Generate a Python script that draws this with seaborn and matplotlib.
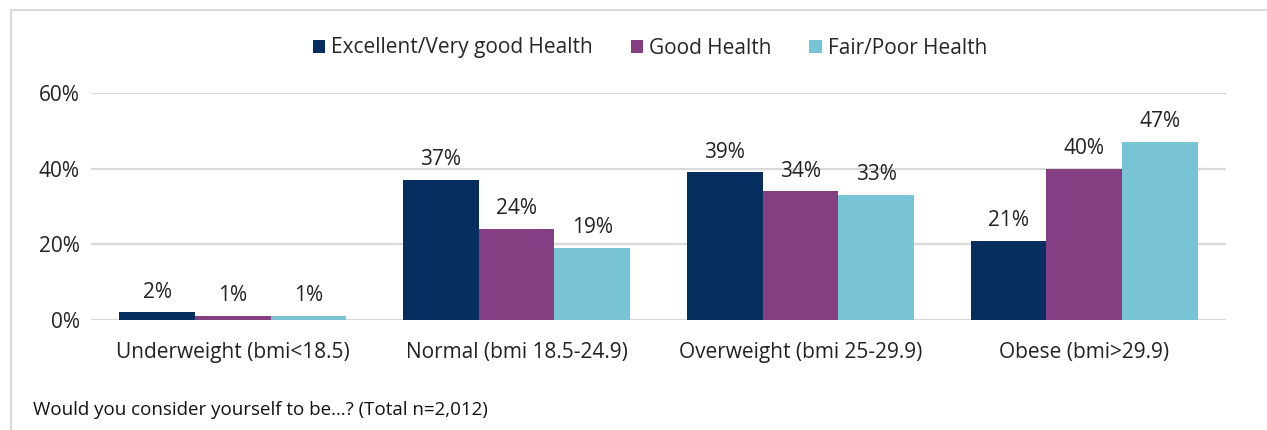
import matplotlib
matplotlib.use("Agg")
import matplotlib.pyplot as plt
import seaborn as sns
import pandas as pd
from matplotlib.lines import Line2D
from matplotlib.patches import Patch

categories = ["Underweight (bmi<18.5)", "Normal (bmi 18.5-24.9)",
              "Overweight (bmi 25-29.9)", "Obese (bmi>29.9)"]
series = ["Excellent/Very good Health", "Good Health", "Fair/Poor Health"]
excellent = [2, 37, 39, 21]
good = [1, 24, 34, 40]
fair = [1, 19, 33, 47]
colors = ["#062F5F", "#833F82", "#78C4D4"]
yticks = [0, 20, 40, 60]
caption = "Would you consider yourself to be\u2026? (Total n=2,012)"

rows = []
for s, vals in zip(series, [excellent, good, fair]):
    for c, v in zip(categories, vals):
        rows.append({"cat": c, "series": s, "value": v})
df = pd.DataFrame(rows)

sns.set_theme(style="white")
plt.rcParams["font.family"] = ["Open Sans", "DejaVu Sans"]

fig = plt.figure(figsize=(12.67, 4.30), dpi=100)
ax = fig.add_axes([91/1267, (430-320)/430, (1226-91)/1267, (320-93)/430])

sns.barplot(data=df, x="cat", y="value", hue="series", order=categories,
            hue_order=series, palette=colors, width=0.8, saturation=1,
            ax=ax, legend=False, edgecolor="none", linewidth=0)

ax.set_xlim(-0.5, 3.5)
ax.set_ylim(0, 60)
ax.set_yticks(yticks)
ax.set_yticklabels([f"{t}%" for t in yticks])
ax.yaxis.grid(True, color="#D9D9D9", linewidth=1.6)
ax.set_axisbelow(True)
for sp in ax.spines.values():
    sp.set_visible(False)
ax.set_xlabel("")
ax.set_ylabel("")
ax.tick_params(axis="both", length=0, labelsize=15, colors="#222222")
ax.tick_params(axis="x", pad=16)
ax.tick_params(axis="y", pad=8)

for cont in ax.containers:
    ax.bar_label(cont, labels=[f"{v:.0f}%" for v in cont.datavalues],
                 padding=7, fontsize=15, color="#222222")

handles = [Patch(facecolor=c, edgecolor="none") for c in colors]
fig.legend(handles, series, loc="center", bbox_to_anchor=(650/1267, 1-48/430),
           ncol=3, frameon=False, fontsize=15, handlelength=0.6,
           handleheight=0.6, handletextpad=0.3, columnspacing=1.8)

fig.text(33/1267, 1-410/430, caption, fontsize=13.5, color="#111111",
         va="center", ha="left")

fig.add_artist(Line2D([11/1267, 11/1267], [0, 1-10/430], transform=fig.transFigure,
                      color="#D9D9D9", linewidth=1.5))
fig.add_artist(Line2D([11/1267, 1], [1-10/430, 1-10/430], transform=fig.transFigure,
                      color="#D9D9D9", linewidth=1.5))

fig.savefig("out.png", dpi=100)
